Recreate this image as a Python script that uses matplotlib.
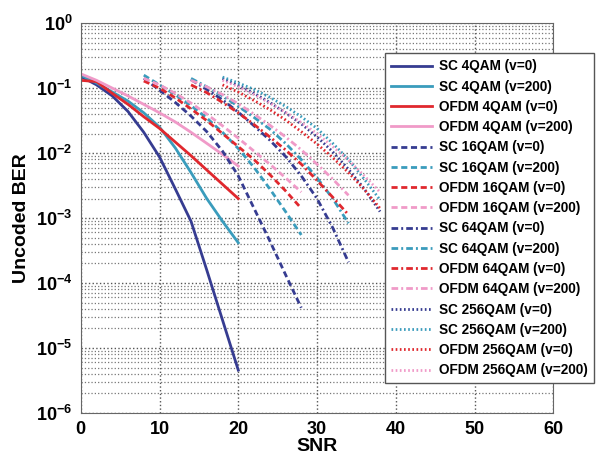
import numpy as np
import matplotlib
matplotlib.use("Agg")
import matplotlib.pyplot as plt
from matplotlib.ticker import LogLocator, NullFormatter

plt.rcParams['font.family'] = ['Liberation Sans', 'DejaVu Sans']
plt.rcParams['font.weight'] = 'bold'
plt.rcParams['mathtext.default'] = 'bf'

# SNR grids for each modulation
snr_4 = [0, 2, 4, 6, 8, 10, 12, 14, 16, 18, 20]
snr_16 = [8, 10, 12, 14, 16, 18, 20, 22, 24, 26, 28]
snr_64 = [14, 16, 18, 20, 22, 24, 26, 28, 30, 32, 34]
snr_256 = [18, 20, 22, 24, 26, 28, 30, 32, 34, 36, 38]

# log10(BER)
sc4_v0 = [-0.82, -0.95, -1.12, -1.36, -1.68, -2.06, -2.55, -3.05, -3.8, -4.57, -5.34]
sc4_v200 = [-0.8, -0.92, -1.06, -1.2, -1.38, -1.6, -1.92, -2.3, -2.7, -3.05, -3.38]
ofdm4_v0 = [-0.88, -0.9, -1.08, -1.25, -1.44, -1.62, -1.83, -2.04, -2.26, -2.48, -2.7]
ofdm4_v200 = [-0.78, -0.88, -1.0, -1.12, -1.25, -1.38, -1.52, -1.68, -1.85, -2.02, -2.2]

sc16_v0 = [-0.85, -1.03, -1.22, -1.43, -1.67, -1.97, -2.35, -2.85, -3.35, -3.87, -4.38]
sc16_v200 = [-0.8, -0.95, -1.1, -1.27, -1.46, -1.68, -1.93, -2.22, -2.55, -2.9, -3.26]
ofdm16_v0 = [-0.89, -1.0, -1.15, -1.32, -1.5, -1.7, -1.9, -2.1, -2.33, -2.58, -2.85]
ofdm16_v200 = [-0.85, -0.95, -1.08, -1.23, -1.4, -1.58, -1.77, -1.97, -2.17, -2.38, -2.6]

sc64_v0 = [-0.87, -1.02, -1.18, -1.37, -1.58, -1.8, -2.05, -2.35, -2.7, -3.15, -3.68]
sc64_v200 = [-0.85, -0.98, -1.12, -1.28, -1.45, -1.63, -1.85, -2.1, -2.38, -2.7, -3.08]
ofdm64_v0 = [-0.95, -1.07, -1.22, -1.38, -1.56, -1.75, -1.95, -2.17, -2.42, -2.68, -2.95]
ofdm64_v200 = [-0.88, -0.98, -1.1, -1.24, -1.4, -1.57, -1.75, -1.95, -2.17, -2.4, -2.65]

sc256_v0 = [-0.85, -0.96, -1.08, -1.22, -1.38, -1.55, -1.75, -1.98, -2.25, -2.55, -2.9]
sc256_v200 = [-0.83, -0.92, -1.02, -1.14, -1.28, -1.44, -1.62, -1.85, -2.1, -2.4, -2.72]
ofdm256_v0 = [-0.95, -1.06, -1.19, -1.33, -1.49, -1.67, -1.86, -2.07, -2.3, -2.56, -2.85]
ofdm256_v200 = [-0.88, -0.98, -1.1, -1.23, -1.37, -1.53, -1.7, -1.9, -2.11, -2.35, -2.6]

c_sc0 = '#363c91'
c_sc200 = '#3a9cbc'
c_of0 = '#e0282e'
c_of200 = '#f09ac8'

solid = '-'
dashed = (0, (2.2, 1.3))
dashdot = (0, (2.4, 1.1, 0.7, 1.1))
dotted = (0, (0.6, 0.9))

series = [
    (snr_4, sc4_v0, c_sc0, solid, 'SC 4QAM (v=0)'),
    (snr_4, sc4_v200, c_sc200, solid, 'SC 4QAM (v=200)'),
    (snr_4, ofdm4_v0, c_of0, solid, 'OFDM 4QAM (v=0)'),
    (snr_4, ofdm4_v200, c_of200, solid, 'OFDM 4QAM (v=200)'),
    (snr_16, sc16_v0, c_sc0, dashed, 'SC 16QAM (v=0)'),
    (snr_16, sc16_v200, c_sc200, dashed, 'SC 16QAM (v=200)'),
    (snr_16, ofdm16_v0, c_of0, dashed, 'OFDM 16QAM (v=0)'),
    (snr_16, ofdm16_v200, c_of200, dashed, 'OFDM 16QAM (v=200)'),
    (snr_64, sc64_v0, c_sc0, dashdot, 'SC 64QAM (v=0)'),
    (snr_64, sc64_v200, c_sc200, dashdot, 'SC 64QAM (v=200)'),
    (snr_64, ofdm64_v0, c_of0, dashdot, 'OFDM 64QAM (v=0)'),
    (snr_64, ofdm64_v200, c_of200, dashdot, 'OFDM 64QAM (v=200)'),
    (snr_256, sc256_v0, c_sc0, dotted, 'SC 256QAM (v=0)'),
    (snr_256, sc256_v200, c_sc200, dotted, 'SC 256QAM (v=200)'),
    (snr_256, ofdm256_v0, c_of0, dotted, 'OFDM 256QAM (v=0)'),
    (snr_256, ofdm256_v200, c_of200, dotted, 'OFDM 256QAM (v=200)'),
]

fig = plt.figure(figsize=(6.12, 4.63), dpi=100)
ax = fig.add_axes([0.132, 0.108, 0.772, 0.842])

for x, logy, col, ls, lab in series:
    ax.semilogy(x, 10 ** np.array(logy), color=col, linestyle=ls, linewidth=2, label=lab)

ax.set_xlim(0, 60)
ax.set_ylim(1e-6, 1)
ax.set_xticks([0, 10, 20, 30, 40, 50, 60])
ax.yaxis.set_major_locator(LogLocator(base=10, numticks=10))
ax.yaxis.set_minor_locator(LogLocator(base=10, subs=np.arange(2, 10), numticks=10))
ax.yaxis.set_minor_formatter(NullFormatter())

ax.grid(True, which='major', axis='both', linestyle=':', color='#555555', linewidth=1)
ax.grid(True, which='minor', axis='y', linestyle=':', color='#777777', linewidth=0.9)
ax.tick_params(axis='both', which='major', labelsize=13, length=0, pad=6)
ax.tick_params(axis='both', which='minor', length=0)
for s in ax.spines.values():
    s.set_color('#666666')

ax.set_xlabel('SNR', fontsize=14, fontweight='bold', labelpad=0)
ax.set_ylabel('Uncoded BER', fontsize=14, fontweight='bold', labelpad=4)

leg = ax.legend(loc='upper left', bbox_to_anchor=(0.629, 0.885), bbox_transform=fig.transFigure,
                borderaxespad=0, fontsize=9.8, handlelength=3.0, labelspacing=0.46,
                borderpad=0.45, handletextpad=0.5, fancybox=False, framealpha=1,
                edgecolor='#555555')
leg.get_frame().set_linewidth(1)

fig.savefig('out.png', dpi=100)
